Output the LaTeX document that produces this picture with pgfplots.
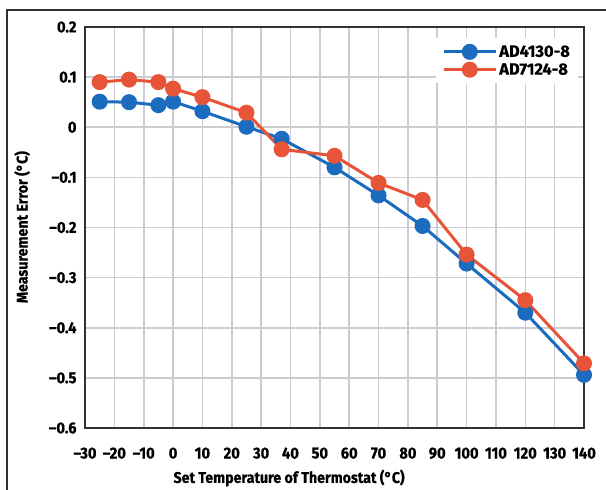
\documentclass[border=0pt]{standalone}
\usepackage{fontspec}
\setmainfont{Fira Sans}[FakeStretch=0.92, BoldFeatures={FakeBold=0.6}]
\newfontfamily\legfont{Fira Sans}[BoldFeatures={FakeBold=0.6}]
\usepackage{pgfplots}
\pgfplotsset{compat=1.18}
\definecolor{adblue}{RGB}{27,108,190}
\definecolor{adred}{RGB}{232,84,56}
\definecolor{gridgray}{RGB}{204,204,210}
\definecolor{axisdark}{RGB}{52,48,46}
\begin{document}
\begin{tikzpicture}[x=1bp,y=1bp]
\path[use as bounding box] (0,0) rectangle (606,490);
\draw[axisdark, line width=1.5bp] (7,0) -- (7,480) -- (606,480);
\begin{axis}[
  at={(85bp,62bp)}, anchor=south west,
  scale only axis, width=499bp, height=401bp,
  xmin=-30, xmax=140, ymin=-0.6, ymax=0.2,
  xtick={-30,-20,-10,0,10,20,30,40,50,60,70,80,90,100,110,120,130,140},
  xticklabels={\textendash30,\textendash20,\textendash10,0,10,20,30,40,50,60,70,80,90,100,110,120,130,140},
  ytick={-0.6,-0.5,-0.4,-0.3,-0.2,-0.1,0,0.1,0.2},
  yticklabels={\textendash0.6,\textendash0.5,\textendash0.4,\textendash0.3,\textendash0.2,\textendash0.1,0,0.1,0.2},
  grid=major,
  major grid style={gridgray, line width=1.6bp},
  axis line style={axisdark, line width=2.2bp},
  major tick length=0pt,
  tick style={draw=none},
  tick label style={font=\bfseries\fontsize{16}{16}\selectfont},
  xticklabel style={yshift=-16bp},
  yticklabel style={xshift=-5bp},
  xlabel={Set Temperature of Thermostat (°C)},
  ylabel={Measurement Error (°C)},
  label style={font=\bfseries\fontsize{15.5}{15.5}\selectfont},
  xlabel style={at={(axis description cs:0.409,-0.1247)}, anchor=center},
  ylabel style={at={(axis description cs:-0.126,0.501)}, anchor=center, rotate=0},
  clip=false,
  legend style={at={(0.988,0.972)}, anchor=north east, draw=none, fill=white,
    font=\legfont\bfseries\fontsize{16.5}{16.5}\selectfont, row sep=1bp, inner xsep=6bp, inner ysep=5bp},
  legend cell align=left,
  legend image code/.code={\draw[mark repeat=2,mark phase=2,#1] plot coordinates {(0bp,0bp) (26bp,0bp) (52bp,0bp)};},
]
\addplot[adblue, line width=3bp, mark=*, mark size=6.5bp, mark options={solid}] coordinates {
(-25,0.051) (-15,0.050) (-5,0.044) (0,0.051) (10,0.032) (25,0.001) (37,-0.023) (55,-0.080) (70,-0.136) (85,-0.197) (100,-0.272) (120,-0.370) (140,-0.494)
};
\addlegendentry{AD4130-8}
\addplot[adred, line width=3bp, mark=*, mark size=6.5bp, mark options={solid}] coordinates {
(-25,0.090) (-15,0.095) (-5,0.090) (0,0.077) (10,0.060) (25,0.029) (37,-0.044) (55,-0.057) (70,-0.111) (85,-0.145) (100,-0.254) (120,-0.345) (140,-0.471)
};
\addlegendentry{AD7124-8}
\end{axis}
\end{tikzpicture}
\end{document}
